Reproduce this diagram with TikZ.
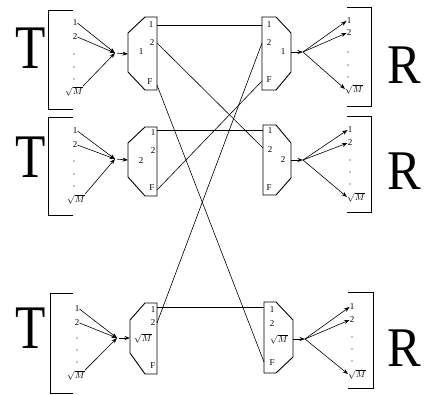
\documentclass[tikz,border=0pt]{standalone}
\usepackage{fontspec}
\setmainfont{Liberation Serif}
\usetikzlibrary{arrows.meta}
\begin{document}
\begin{tikzpicture}[x=1pt,y=-1pt,
  lbl/.style={font=\fontsize{9}{9}\selectfont, inner sep=0pt},
  bigT/.style={font=\fontsize{62}{62}\selectfont, inner sep=0pt, xscale=0.8},
  bigR/.style={font=\fontsize{56}{56}\selectfont, inner sep=0pt, xscale=0.9},
  mux/.style={line width=0.9pt, line join=miter},
  brk/.style={line width=0.8pt},
  conn/.style={line width=0.6pt},
  arr/.style={line width=0.6pt,-{Stealth[length=5.5pt,width=4pt]}},
  dotmark/.style={fill=black, circle, inner sep=0pt, minimum size=1.4pt}]
\useasboundingbox (0,0) rectangle (428,395);

% ================= Block 1 =================
\node[bigT] (T1) at (31,48) {T};
\draw[brk] (73,10) -- (48,10) -- (48,109) -- (73,109);
\node[lbl] (a11) at (75,23) {1};
\node[lbl] (a12) at (75,37) {2};
\node[dotmark] (a1d1) at (74,54) {};
\node[dotmark] (a1d2) at (74,67) {};
\node[dotmark] (a1d3) at (74,79) {};
\node[lbl] (a1M) at (74,91) {$\sqrt{M}$};
\coordinate (c1) at (115,53);
\coordinate (m1in) at (128,54);
\draw[arr] (a11.east) -- (c1);
\draw[arr] (a12.east) -- (c1);
\draw[arr] (a1M.north east) -- (c1);
\draw[arr, shorten <=2pt] (c1) -- (m1in);
\draw[mux] (145,17) -- (157,17) -- (157,90) -- (145,90) -- (128,72) -- (128,33) -- cycle;
\coordinate (L1p1) at (157,25);
\coordinate (L1p2) at (157,43);
\coordinate (L1pF) at (157,85);
\node[lbl] (L1l1) at (151,25) {1};
\node[lbl] (L1l2) at (152,43) {2};
\node[lbl] (L1lF) at (150,82) {F};
\node[lbl] (L1c) at (141,52) {1};

\draw[mux] (262,17) -- (276,17) -- (291,33) -- (291,72) -- (276,90) -- (262,90) -- cycle;
\coordinate (R1p1) at (262,25);
\coordinate (R1p2) at (262,43);
\coordinate (R1pF) at (262,81);
\node[lbl] (R1l1) at (269,25) {1};
\node[lbl] (R1l2) at (269,43) {2};
\node[lbl] (R1lF) at (269,80) {F};
\node[lbl] (R1c) at (283,52) {1};
\coordinate (R1out) at (291,52);
\coordinate (d1) at (303,52);
\draw[arr] (R1out) -- (d1);
\node[lbl] (b11) at (349,21) {1};
\node[lbl] (b12) at (349,33) {2};
\node[dotmark] (b1d1) at (348,52) {};
\node[dotmark] (b1d2) at (348,65) {};
\node[dotmark] (b1d3) at (348,77) {};
\node[lbl] (b1M) at (354,89) {$\sqrt{M}$};
\draw[arr] (d1) -- (b11.west);
\draw[arr] (d1) -- (b12.west);
\draw[arr] (d1) -- (b1M.west);
\draw[brk] (347,7) -- (371,7) -- (371,106) -- (347,106);
\node[bigR] (R1) at (404,65) {R};

% ================= Block 2 =================
\node[bigT] (T2) at (31,157) {T};
\draw[brk] (73,117) -- (48,117) -- (48,215) -- (73,215);
\node[lbl] (a21) at (75,131) {1};
\node[lbl] (a22) at (75,145) {2};
\node[dotmark] (a2d1) at (74,161) {};
\node[dotmark] (a2d2) at (74,174) {};
\node[dotmark] (a2d3) at (74,186) {};
\node[lbl] (a2M) at (76,199) {$\sqrt{M}$};
\coordinate (c2) at (115,159);
\coordinate (m2in) at (128,160);
\draw[arr] (a21.east) -- (c2);
\draw[arr] (a22.east) -- (c2);
\draw[arr] (a2M.north east) -- (c2);
\draw[arr, shorten <=2pt] (c2) -- (m2in);
\draw[mux] (145,127) -- (157,127) -- (157,196) -- (145,196) -- (128,177) -- (128,143) -- cycle;
\coordinate (L2p1) at (157,130);
\coordinate (L2p2) at (157,151);
\coordinate (L2pF) at (157,190);
\node[lbl] (L2l1) at (153,133) {1};
\node[lbl] (L2l2) at (153,151) {2};
\node[lbl] (L2lF) at (152,188) {F};
\node[lbl] (L2c) at (141,161) {2};

\draw[mux] (263,125) -- (276,125) -- (291,143) -- (291,178) -- (276,195) -- (263,195) -- cycle;
\coordinate (R2p1) at (263,130);
\coordinate (R2p2) at (263,148);
\coordinate (R2pF) at (263,188);
\node[lbl] (R2l1) at (270,131) {1};
\node[lbl] (R2l2) at (270,150) {2};
\node[lbl] (R2lF) at (269,188) {F};
\node[lbl] (R2c) at (283,160) {2};
\coordinate (R2out) at (291,160);
\coordinate (d2) at (303,160);
\draw[arr] (R2out) -- (d2);
\node[lbl] (b21) at (350,130) {1};
\node[lbl] (b22) at (350,143) {2};
\node[dotmark] (b2d1) at (350,160) {};
\node[dotmark] (b2d2) at (350,172) {};
\node[dotmark] (b2d3) at (350,184) {};
\node[lbl] (b2M) at (356,197) {$\sqrt{M}$};
\draw[arr] (d2) -- (b21.west);
\draw[arr] (d2) -- (b22.west);
\draw[arr] (d2) -- (b2M.west);
\draw[brk] (347,116) -- (371,116) -- (371,212) -- (347,212);
\node[bigR] (R2) at (404,171) {R};

% ================= Block 3 =================
\node[bigT] (T3) at (31,328) {T};
\draw[brk] (73,293) -- (50,293) -- (50,393) -- (73,393);
\node[lbl] (a31) at (77,309) {1};
\node[lbl] (a32) at (77,323) {2};
\node[dotmark] (a3d1) at (77,338) {};
\node[dotmark] (a3d2) at (77,350) {};
\node[dotmark] (a3d3) at (77,362) {};
\node[lbl] (a3M) at (76,375) {$\sqrt{M}$};
\coordinate (c3) at (117,338);
\coordinate (m3in) at (130,338);
\draw[arr] (a31.east) -- (c3);
\draw[arr] (a32.east) -- (c3);
\draw[arr] (a3M.north east) -- (c3);
\draw[arr, shorten <=2pt] (c3) -- (m3in);
\draw[mux] (145,303) -- (157,303) -- (157,374) -- (145,374) -- (130,353) -- (130,320) -- cycle;
\coordinate (L3p1) at (157,307);
\coordinate (L3p2) at (157,323);
\coordinate (L3pF) at (157,366);
\node[lbl] (L3l1) at (153,310) {1};
\node[lbl] (L3l2) at (153,323) {2};
\node[lbl] (L3lF) at (153,366) {F};
\node[lbl] (L3c) at (143,338) {$\sqrt{M}$};

\draw[mux] (264,302) -- (276,302) -- (293,320) -- (293,357) -- (276,373) -- (264,373) -- cycle;
\coordinate (R3p1) at (264,307);
\coordinate (R3p2) at (264,325);
\coordinate (R3pF) at (264,362);
\node[lbl] (R3l1) at (272,310) {1};
\node[lbl] (R3l2) at (272,324) {2};
\node[lbl] (R3c) at (279,339) {$\sqrt{M}$};
\node[lbl] (R3lF) at (272,363) {F};
\coordinate (R3out) at (293,339);
\coordinate (d3) at (305,339);
\draw[arr] (R3out) -- (d3);
\node[lbl] (b31) at (352,307) {1};
\node[lbl] (b32) at (352,320) {2};
\node[dotmark] (b3d1) at (352,337) {};
\node[dotmark] (b3d2) at (352,349) {};
\node[dotmark] (b3d3) at (352,361) {};
\node[lbl] (b3M) at (357,374) {$\sqrt{M}$};
\draw[arr] (d3) -- (b31.west);
\draw[arr] (d3) -- (b32.west);
\draw[arr] (d3) -- (b3M.west);
\draw[brk] (348,292) -- (373,292) -- (373,388) -- (348,388);
\node[bigR] (R3) at (404,348) {R};

% ================= Cross connections =================
\draw[conn] (L1p1) -- (R1p1);
\draw[conn] (L1p2) -- (R2p2);
\draw[conn] (L1pF) -- (R3pF);
\draw[conn] (L2p1) -- (R2p1);
\draw[conn] (L2pF) -- (R1pF);
\draw[conn] (L3p1) -- (R3p1);
\draw[conn] (L3p2) -- (R1p2);
\end{tikzpicture}
\end{document}
